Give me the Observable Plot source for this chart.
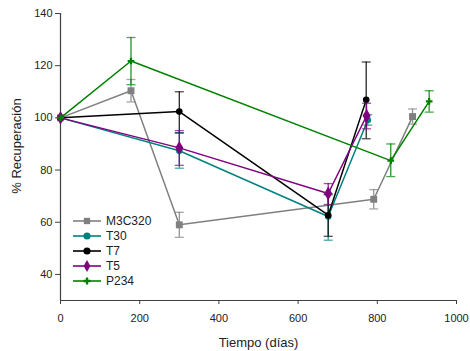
<!DOCTYPE html>
<html><head><meta charset="utf-8">
<script src="https://cdn.jsdelivr.net/npm/d3@7"></script>
<script src="https://cdn.jsdelivr.net/npm/@observablehq/plot@0.6"></script>
<style>
body{margin:0;background:#fff;font-family:"Liberation Sans",Arial,sans-serif;}
#wrap{position:relative;width:470px;height:351px;}
#legend{position:absolute;left:72px;top:214px;font-size:12px;color:#222;}
.row{display:flex;align-items:center;height:14.8px;}
.row span{margin-left:4px;}
</style></head>
<body><div id="wrap"><div id="chart"></div><div id="legend"></div></div>
<script>
const seriesNames = ["M3C320","T30","T7","T5","P234"];
const seriesColors = ["#808080","#008080","#000000","#800080","#008000"];
const seriesSymbols = ["square","circle","circle","diamond","cross"];

const m3cDays = [0,178,300,791,889];
const m3cMean = [100,110.4,59.0,68.8,100.5];
const m3cHi   = [100,114.7,63.8,72.5,103.4];
const m3cLo   = [100,106.1,54.2,65.1,97.6];

const t30Days = [0,300,676,776];
const t30Mean = [100,87.4,62.2,99.2];
const t30Hi   = [100,94.3,70.5,101.2];
const t30Lo   = [100,80.7,53.1,97.2];

const t7Days = [0,300,676,772];
const t7Mean = [100,102.4,62.7,106.9];
const t7Hi   = [100,110.0,70.8,121.4];
const t7Lo   = [100,94.2,54.6,92.0];

const t5Days = [0,300,676,773];
const t5Mean = [100,88.5,71.0,100.8];
const t5Hi   = [100,95.1,74.8,105.6];
const t5Lo   = [100,81.8,66.8,95.8];

const p234Days = [0,178,834,931];
const p234Mean = [100,121.8,83.6,106.3];
const p234Hi   = [100,130.8,90.0,110.4];
const p234Lo   = [100,112.7,77.5,102.2];

const xTicks = [0,200,400,600,800,1000];
const yTicks = [40,60,80,100,120,140];
const xLabel = "Tiempo (días)";
const yLabel = "% Recuperación";

const raw = [
  [m3cDays,m3cMean,m3cHi,m3cLo],
  [t30Days,t30Mean,t30Hi,t30Lo],
  [t7Days,t7Mean,t7Hi,t7Lo],
  [t5Days,t5Mean,t5Hi,t5Lo],
  [p234Days,p234Mean,p234Hi,p234Lo]
];
const rows = [];
raw.forEach(([d,m,h,l],i)=>d.forEach((x,j)=>rows.push({s:seriesNames[i],x,y:m[j],hi:h[j],lo:l[j]})));

const capSymbol = {draw(ctx){ctx.moveTo(-4.5,0);ctx.lineTo(4.5,0);}};
const axisColor = "#404040";

const marks = [
  Plot.ruleY([30],{stroke:axisColor,strokeWidth:1.2}),
  Plot.ruleX([0],{stroke:axisColor,strokeWidth:1.2}),
  Plot.axisX({ticks:xTicks,tickSize:4,tickPadding:10,fontSize:11,stroke:axisColor,label:null,tickFormat:d=>String(d)}),
  Plot.axisY({ticks:yTicks,tickSize:5,tickPadding:3,fontSize:11,stroke:axisColor,label:null}),
  Plot.text([xLabel],{frameAnchor:"bottom",lineAnchor:"middle",textAnchor:"middle",dy:42,fontSize:13,fill:"#222"}),
  Plot.text([yLabel],{frameAnchor:"left",textAnchor:"middle",lineAnchor:"middle",rotate:-90,dx:-44,dy:-11,fontSize:13,fill:"#222"})
];
seriesNames.forEach((name,i)=>{
  const data = rows.filter(r=>r.s===name && r.x>0);
  const all = rows.filter(r=>r.s===name);
  const c = seriesColors[i];
  marks.push(
    Plot.ruleX(data,{x:"x",y1:"lo",y2:"hi",stroke:c,strokeWidth:1.3,strokeOpacity:0.85}),
    Plot.dot(data,{x:"x",y:"hi",symbol:capSymbol,stroke:c,strokeWidth:1.3,strokeOpacity:0.7,r:4}),
    Plot.dot(data,{x:"x",y:"lo",symbol:capSymbol,stroke:c,strokeWidth:1.3,strokeOpacity:0.7,r:4}),
    Plot.line(all,{x:"x",y:"y",stroke:c,strokeWidth:1.5}),
    Plot.dot(all,{x:"x",y:"y",symbol:seriesSymbols[i],fill:c,r:i===4?2.8:(i===0?3.9:(i===3?4.2:3.3))})
  );
});

const chart = Plot.plot({
  width:470,height:351,
  marginLeft:60,marginRight:14,marginTop:13,marginBottom:51,
  style:{fontFamily:"'Liberation Sans',Arial,sans-serif",fontSize:"11px",color:"#222",background:"#fff"},
  x:{domain:[0,1000]},
  y:{domain:[30,140]},
  marks
});
document.getElementById("chart").appendChild(chart);

const lg = document.getElementById("legend");
seriesNames.forEach((name,i)=>{
  const row = document.createElement("div");
  row.className="row";
  const sym = d3.symbol(d3["symbol"+seriesSymbols[i][0].toUpperCase()+seriesSymbols[i].slice(1)], i===4?28:40)();
  row.innerHTML = `<svg width="30" height="12"><line x1="1" x2="29" y1="6" y2="6" stroke="${seriesColors[i]}" stroke-width="1.6"/><path transform="translate(15,6)" d="${sym}" fill="${seriesColors[i]}"/></svg><span>${name}</span>`;
  lg.appendChild(row);
});
</script></body></html>
